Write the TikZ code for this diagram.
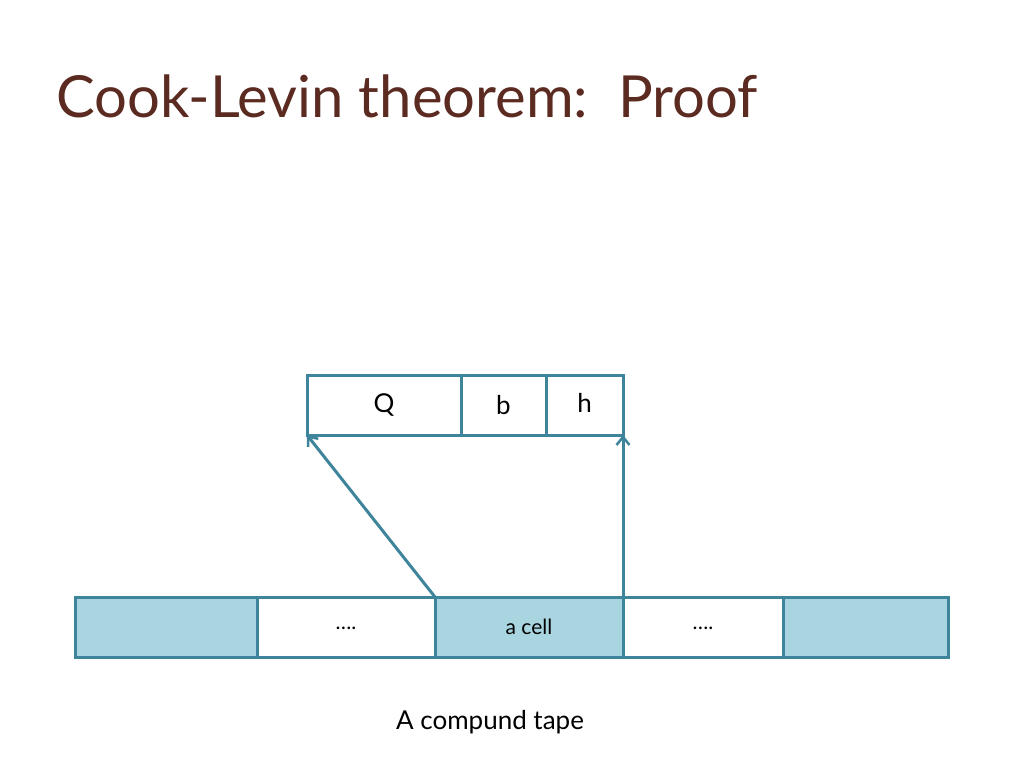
\documentclass[tikz,border=0pt]{standalone}
\usepackage{fontspec}
\setmainfont{Lato}
\usetikzlibrary{positioning,arrows.meta}
\definecolor{tapeline}{HTML}{3E849A}
\definecolor{tapefill}{HTML}{A9D5E0}
\definecolor{titlebrown}{HTML}{5B2A20}
\tikzset{
  cell/.style={draw=tapeline, line width=3pt, minimum height=60pt, inner sep=0pt, outer sep=0pt, font=\fontsize{21}{24}\selectfont},
  full/.style={cell, fill=tapefill},
  part/.style={cell, fill=white, font=\fontsize{26}{30}\selectfont},
  link/.style={draw=tapeline, line width=3pt, -{Straight Barb[length=8pt,width=13pt,line width=2.5pt]}}
}
\begin{document}
\begin{tikzpicture}[x=1pt, y=-1pt]
        \useasboundingbox (0,0) rectangle (1024,768);
        \node[anchor=base west, text=titlebrown, font=\fontsize{58}{64}\selectfont] (title) at (53,117) {Cook-Levin theorem:\ \ Proof};
        % the compound tape
        \node[full, minimum width=182pt, anchor=north west] (c1) at (75,597) {};
        \node[cell, minimum width=178pt, right=0pt of c1] (c2) {\raisebox{-6pt}{\ldots.}};
        \node[full, minimum width=188pt, right=0pt of c2] (c3) {a cell};
        \node[cell, minimum width=160pt, right=0pt of c3] (c4) {\raisebox{-6pt}{\ldots.}};
        \node[full, minimum width=165pt, right=0pt of c4] (c5) {};
        % the parts of one cell
        \node[part, minimum width=154pt, anchor=north west] (pq) at (307,375) {Q};
        \node[part, minimum width=85pt, right=0pt of pq] (pb) {b};
        \node[part, minimum width=77pt, right=0pt of pb] (ph) {\raisebox{4pt}{h}};
        \draw[link] (c3.north west)--(pq.south west);
        \draw[link] (c3.north east)--(ph.south east);
        \node[font=\fontsize{26}{30}\selectfont] (cap) at (490,722) {A compund tape};
\end{tikzpicture}
\end{document}
